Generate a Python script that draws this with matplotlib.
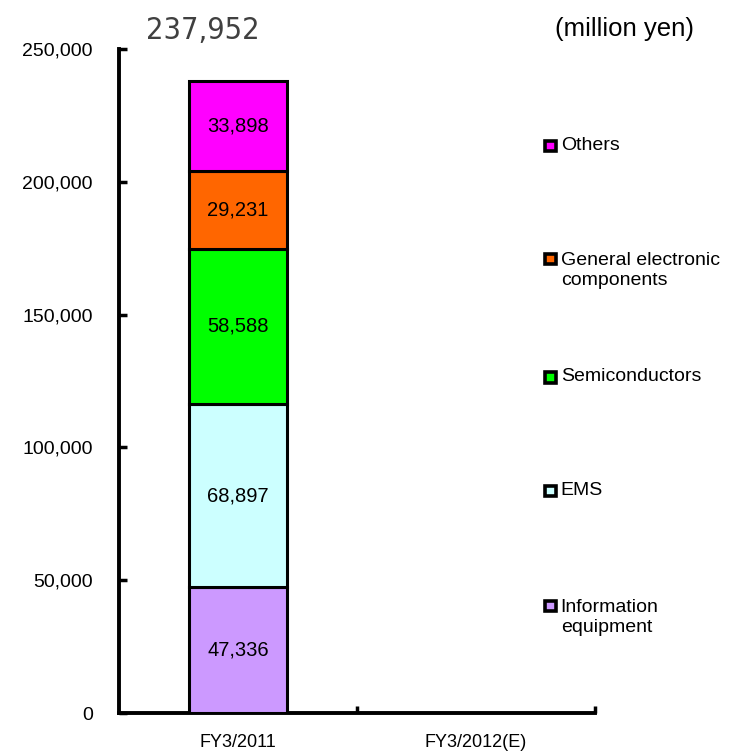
import matplotlib.pyplot as plt
from matplotlib.ticker import FuncFormatter

plt.rcParams['font.family'] = ['Liberation Sans', 'DejaVu Sans']

periods = ['FY3/2011', 'FY3/2012(E)']
segments = ['Information\nequipment', 'EMS', 'Semiconductors',
            'General electronic\ncomponents', 'Others']
colors = ['#CC99FF', '#CCFFFF', '#00FF00', '#FF6600', '#FF00FF']
values_2011 = [47336, 68897, 58588, 29231, 33898]
total_2011 = 237952

fig = plt.figure(figsize=(7.31, 7.53), dpi=100)
ax = fig.add_axes([0.163, 0.053, 0.651, 0.882])

bottom = 0
for seg, col, v in zip(segments, colors, values_2011):
    ax.bar(0, v, width=0.41, bottom=bottom, color=col, edgecolor='black',
           linewidth=2.2, zorder=3)
    ax.text(0, bottom + v / 2, f'{v:,}', ha='center', va='center', fontsize=14.5)
    bottom += v

ax.set_xlim(-0.5, 1.5)
ax.set_ylim(0, 250000)
ax.set_yticks(range(0, 250001, 50000))
ax.yaxis.set_major_formatter(FuncFormatter(lambda v, p: f'{int(v):,}'))
ax.tick_params(axis='y', direction='in', length=6, width=2.5, pad=19, labelsize=14)

ax.set_xticks([0, 1])
ax.set_xticklabels(periods)
ax.set_xticks([0.5, 1.5], minor=True)
ax.tick_params(axis='x', which='major', length=0, pad=15, labelsize=13)
ax.tick_params(axis='x', which='minor', direction='in', length=5, width=2.5)

for s in ['top', 'right']:
    ax.spines[s].set_visible(False)
for s in ['left', 'bottom']:
    ax.spines[s].set_linewidth(2.8)

# stack total above the bar
fig.text(0.278, 0.960, f'{total_2011:,}', ha='center', va='center', fontsize=22,
         color='#404040', family='DejaVu Sans', fontstretch='condensed')
fig.text(0.759, 0.962, '(million yen)', ha='left', va='center', fontsize=18.5)

# legend entries, top to bottom in reverse stack order
ys = [0.807, 0.657, 0.500, 0.349, 0.196]
for y, seg, col in zip(ys, segments[::-1], colors[::-1]):
    fig.patches.append(plt.Rectangle((0.746, y - 0.008), 0.014, 0.014,
                                     transform=fig.transFigure, facecolor=col,
                                     edgecolor='black', linewidth=2.6))
    nlines = seg.count('\n') + 1
    yc = y - (nlines - 1) * 0.0165
    fig.text(0.767, yc, seg, ha='left', va='center', fontsize=14, linespacing=1.25)

fig.savefig('out.png', dpi=100)
